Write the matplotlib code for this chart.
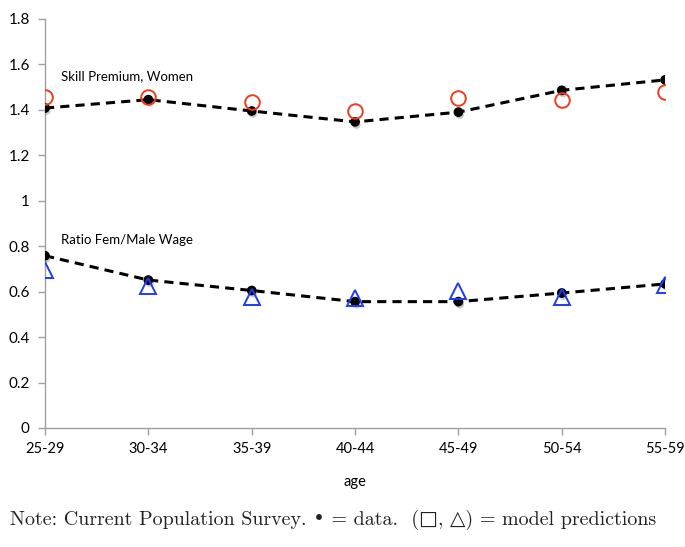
import matplotlib
matplotlib.use("Agg")
import matplotlib.pyplot as plt
import matplotlib.patheffects as pe

ages = ["25-29", "30-34", "35-39", "40-44", "45-49", "50-54", "55-59"]

# skill premium, women
skill_data = [1.408, 1.445, 1.395, 1.347, 1.390, 1.486, 1.532]
skill_model = [1.457, 1.458, 1.435, 1.395, 1.452, 1.445, 1.479]

# female/male wage ratio
ratio_data = [0.758, 0.651, 0.605, 0.556, 0.556, 0.594, 0.634]
ratio_model = [0.695, 0.626, 0.578, 0.572, 0.603, 0.578, 0.630]

yticks = [0, 0.2, 0.4, 0.6, 0.8, 1, 1.2, 1.4, 1.6, 1.8]
ytick_labels = ["0", "0.2", "0.4", "0.6", "0.8", "1", "1.2", "1.4", "1.6", "1.8"]

plt.rcParams['font.family'] = ['Lato', 'DejaVu Sans']

fig = plt.figure(figsize=(6.85, 5.47), dpi=100)
ax = fig.add_axes([0.0657, 0.2176, 0.9053, 0.7477])

x = list(range(len(ages)))
shadow = [pe.SimplePatchShadow(offset=(1, -2), shadow_rgbFace='0.6', alpha=0.5), pe.Normal()]

ax.plot(x, skill_data, '--', color='black', linewidth=2.2, dashes=(3, 2), zorder=3)
ax.plot(x, ratio_data, '--', color='black', linewidth=2.2, dashes=(3, 2), zorder=3)
ax.plot(x, skill_data, 'o', color='black', markersize=6, zorder=4,
        path_effects=shadow)
ax.plot(x, ratio_data, 'o', color='black', markersize=6, zorder=4,
        path_effects=shadow)
ax.plot(x, skill_model, 'o', markerfacecolor='none', markeredgecolor='#f03c1e',
        markeredgewidth=1.4, markersize=10.5, linestyle='none', zorder=5)
ax.plot(x, ratio_model, '^', markerfacecolor='none', markeredgecolor='#1f3cf0',
        markeredgewidth=1.4, markersize=11.5, linestyle='none', zorder=5)

ax.text(0.15, 1.549, "Skill Premium, Women", fontsize=9.5, va='center')
ax.text(0.15, 0.827, "Ratio Fem/Male Wage", fontsize=9.5, va='center')

ax.set_xlim(0, len(ages) - 1)
ax.set_ylim(0, 1.8)
ax.set_xticks(x)
ax.set_xticklabels(ages, fontsize=10.5)
ax.set_yticks(yticks)
ax.set_yticklabels(ytick_labels, fontsize=11)
ax.set_xlabel("age", fontsize=10.5, labelpad=14)

for side in ['top', 'right']:
    ax.spines[side].set_visible(False)
for side in ['left', 'bottom']:
    ax.spines[side].set_color('#a0a0a0')
    ax.spines[side].set_linewidth(1.0)
ax.tick_params(axis='both', colors='#a0a0a0', labelcolor='black', length=5, width=1)
ax.tick_params(axis='x', pad=5)
ax.tick_params(axis='y', pad=6)

fig.text(0.015, 0.04, "Note: Current Population Survey. \u2022 = data.  (\u25A1, \u25B3) = model predictions",
         fontsize=14.4, family=['cmr10', 'DejaVu Serif'], color='#222222')

fig.savefig("out.png", dpi=100)
